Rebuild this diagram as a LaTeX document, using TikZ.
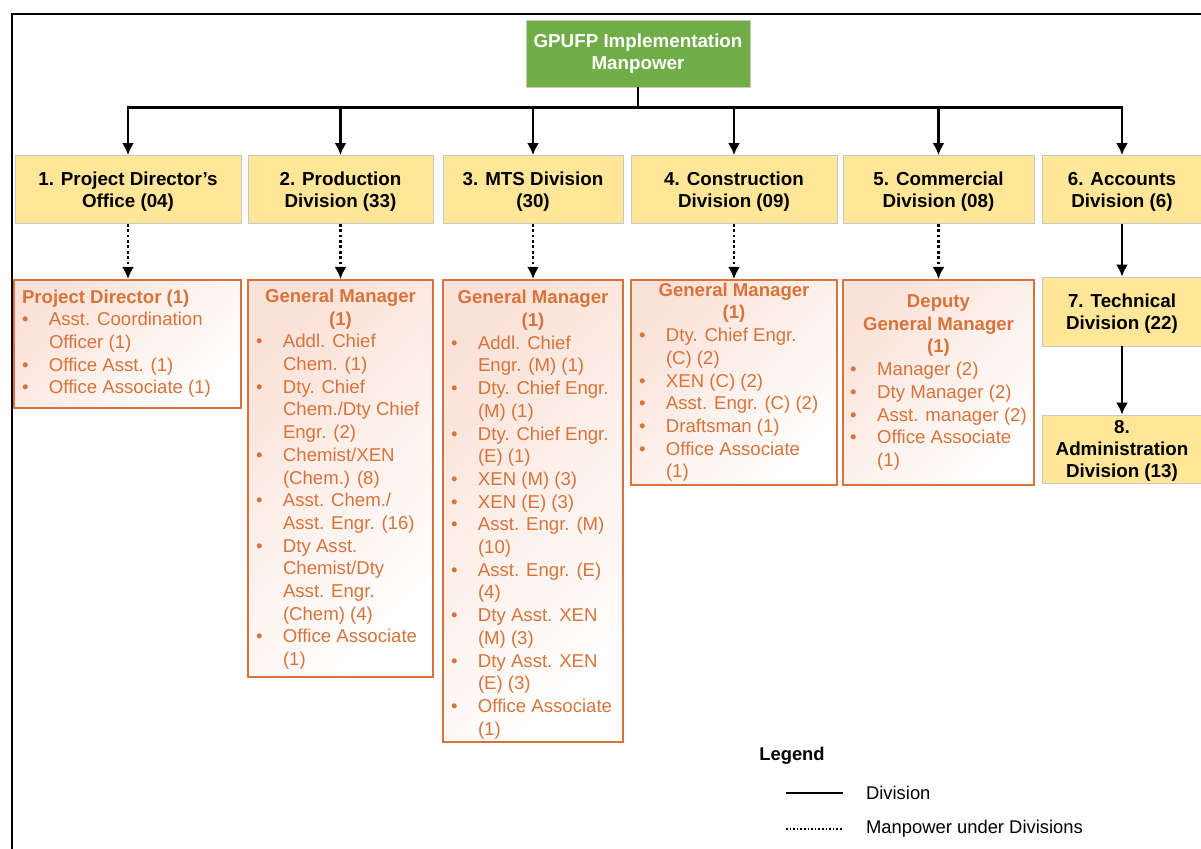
\documentclass[tikz,border=0pt]{standalone}
\usepackage{fontspec}
\setmainfont{Liberation Sans}
\usetikzlibrary{arrows.meta}

\definecolor{topgreen}{HTML}{70AD47}
\definecolor{divfill}{HTML}{FFE699}
\definecolor{divline}{HTML}{C8C8C8}
\definecolor{staff}{HTML}{D9733A}
\definecolor{stafffill}{HTML}{FBE2D8}

% heading row of a manpower box: alignment, width, text
\newcommand{\stafftitle}[3]{\multicolumn{2}{@{}c@{}}{\makebox[#2][#1]{\bfseries #3}}}

\begin{document}
\begin{tikzpicture}[x=0.5pt,y=-0.5pt]

\useasboundingbox (0,0) rectangle (1201,849);
\draw[line width=1pt] (12,849) -- (12,14) -- (1201,14);

\tikzset{%
  top/.style={draw=divline,fill=topgreen,text=white,align=center,
    font=\bfseries\fontsize{9.4}{11}\selectfont,inner sep=0pt},
  division/.style={draw=divline,fill=divfill,align=center,text depth=0pt,
    font=\bfseries\fontsize{9.4}{11}\selectfont,inner sep=0pt},
  staffbox/.style={draw=staff,line width=1pt,anchor=north,inner sep=0pt,
    text=staff,font=\fontsize{9.3}{11.35}\selectfont,
    top color=stafffill,bottom color=white,shading angle=45},
  solid arrow/.style={line width=1.2pt,-{Latex[length=6pt,width=6pt]}},
  dotted arrow/.style={solid arrow,dash pattern=on 1.4pt off 1.3pt},
}

\node[top,minimum width=112pt,minimum height=33.5pt] (gpufp) at (638,53.5)
  {GPUFP Implementation\\Manpower};

% divisions
\node[division,minimum width=113pt,minimum height=34pt] (pd) at (128,189.5) {1. Project Director's\\Office (04)};
\node[division,minimum width=92.5pt,minimum height=34pt] (prod) at (340.5,189.5) {2. Production\\Division (33)};
\node[division,minimum width=90pt,minimum height=34pt] (mts) at (533,189.5) {3. MTS Division\\(30)};
\node[division,minimum width=103pt,minimum height=34pt] (cons) at (734,189.5) {4. Construction\\Division (09)};
\node[division,minimum width=95.5pt,minimum height=34pt] (comm) at (938.5,189.5) {5. Commercial\\Division (08)};
\node[division,minimum width=80pt,minimum height=34pt] (acct) at (1122,189.5) {6. Accounts\\Division (6)};
\node[division,minimum width=80pt,minimum height=34.5pt] (tech) at (1122,311.5) {7. Technical\\Division (22)};
\node[division,minimum width=80pt,minimum height=34pt] (admin) at (1122,449) {8.\\Administration\\Division (13)};

% manpower under divisions
\node[staffbox,minimum width=113.5pt,minimum height=64pt] (pdstaff) at (127.5,279) {%
\begin{tabular}{@{}p{13.5pt}@{}l@{}}
\stafftitle{l}{105.5pt}{Project Director (1)}\\
\textbullet & Asst. Coordination\\
 & Officer (1)\\
\textbullet & Office Asst. (1)\\
\textbullet & Office Associate (1)
\end{tabular}};

\node[staffbox,minimum width=92.5pt,minimum height=198.5pt] (prodstaff) at (340.5,279) {%
\begin{tabular}{@{}p{13.5pt}@{}l@{}}
\noalign{\vskip 1pt}
\stafftitle{c}{84.5pt}{General Manager}\\
\stafftitle{c}{84.5pt}{(1)}\\
\textbullet & Addl. Chief\\
 & Chem. (1)\\
\textbullet & Dty. Chief\\
 & Chem./Dty Chief\\
 & Engr. (2)\\
\textbullet & Chemist/XEN\\
 & (Chem.) (8)\\
\textbullet & Asst. Chem./\\
 & Asst. Engr. (16)\\
\textbullet & Dty Asst.\\
 & Chemist/Dty\\
 & Asst. Engr.\\
 & (Chem) (4)\\
\textbullet & Office Associate\\
 & (1)
\end{tabular}};

\node[staffbox,minimum width=90pt,minimum height=230.5pt] (mtsstaff) at (533,279) {%
\begin{tabular}{@{}p{13.5pt}@{}l@{}}
\noalign{\vskip 4pt}
\stafftitle{c}{82pt}{General Manager}\\
\stafftitle{c}{82pt}{(1)}\\
\textbullet & Addl. Chief\\
 & Engr. (M) (1)\\
\textbullet & Dty. Chief Engr.\\
 & (M) (1)\\
\textbullet & Dty. Chief Engr.\\
 & (E) (1)\\
\textbullet & XEN (M) (3)\\
\textbullet & XEN (E) (3)\\
\textbullet & Asst. Engr. (M)\\
 & (10)\\
\textbullet & Asst. Engr. (E)\\
 & (4)\\
\textbullet & Dty Asst. XEN\\
 & (M) (3)\\
\textbullet & Dty Asst. XEN\\
 & (E) (3)\\
\textbullet & Office Associate\\
 & (1)
\end{tabular}};

\node[staffbox,minimum width=103pt,minimum height=102.5pt] (consstaff) at (734,279) {%
\begin{tabular}{@{}p{13.5pt}@{}l@{}}
\stafftitle{c}{95pt}{General Manager}\\
\stafftitle{c}{95pt}{(1)}\\
\textbullet & Dty. Chief Engr.\\
 & (C) (2)\\
\textbullet & XEN (C) (2)\\
\textbullet & Asst. Engr. (C) (2)\\
\textbullet & Draftsman (1)\\
\textbullet & Office Associate\\
 & (1)
\end{tabular}};

\node[staffbox,minimum width=95.5pt,minimum height=102.5pt] (commstaff) at (938.5,279) {%
\begin{tabular}{@{}p{13.5pt}@{}l@{}}
\stafftitle{c}{87.5pt}{Deputy}\\
\stafftitle{c}{87.5pt}{General Manager}\\
\stafftitle{c}{87.5pt}{(1)}\\
\textbullet & Manager (2)\\
\textbullet & Dty Manager (2)\\
\textbullet & Asst. manager (2)\\
\textbullet & Office Associate\\
 & (1)
\end{tabular}};

% connectors
\foreach \d in {pd,prod,mts,cons,comm,acct}
  \draw[solid arrow] (gpufp.south) -- +(0,20) -| (\d.north);
\draw[solid arrow] (acct.south) -- (tech.north);
\draw[solid arrow] (tech.south) -- (admin.north);

\foreach \d in {pd,prod,mts,cons,comm}
  \draw[dotted arrow] (\d.south) -- (\d.south |- \d staff.north);

% legend
\node[font=\bfseries\fontsize{9.2}{11}\selectfont] (legend) at (792,756) {Legend};
\coordinate (divA) at (786,793);
\coordinate (divB) at (843,793);
\draw[line width=0.8pt] (divA) -- (divB);
\node[right,font=\fontsize{9.2}{11}\selectfont] (divtext) at (859,793) {Division};
\coordinate (mpA) at (786,829);
\coordinate (mpB) at (843,829);
\draw[line width=0.8pt,densely dotted] (mpA) -- (mpB);
\node[right,font=\fontsize{9.2}{11}\selectfont] (mptext) at (859,829) {Manpower under Divisions};

\end{tikzpicture}
\end{document}
